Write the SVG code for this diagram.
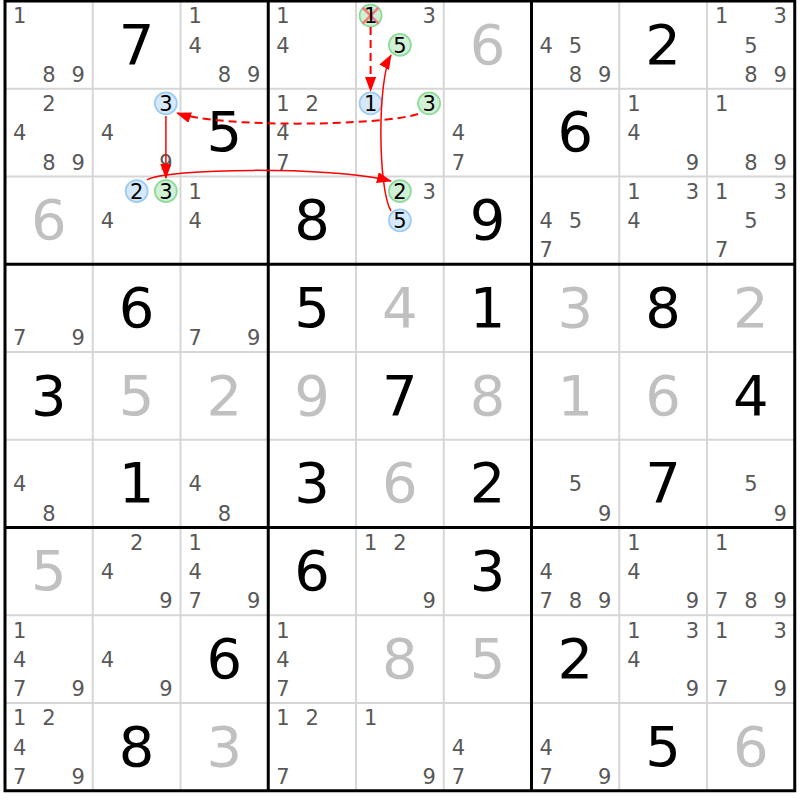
<svg xmlns="http://www.w3.org/2000/svg" width="800" height="800" viewBox="0 0 800 800">
<style>
text{font-family:"DejaVu Sans","Verdana",sans-serif;text-anchor:middle}
.c{font-size:21px;fill:#585858}
.d{font-size:21px;fill:#000}
.g{font-size:56px;fill:#000}
.s{font-size:56px;fill:#c0c0c0}
.cb{fill:#d6e9fb;stroke:#9ecbf3;stroke-width:1.8}
.cg{fill:#d2f0d6;stroke:#8ddb9b;stroke-width:1.8}
.thin{stroke:#d6d6d6;stroke-width:2}
.thick{stroke:#000;stroke-width:3}
.x{stroke:#f07c7c;stroke-width:2.6}
.arr{fill:none;stroke:#ff0000;stroke-width:1.5}
.dash{stroke-width:2;stroke-dasharray:8,5}
</style>
<defs>
<marker id="ah" markerUnits="userSpaceOnUse" viewBox="0 0 15 11" markerWidth="15" markerHeight="11" refX="14" refY="5.5" orient="auto"><path d="M0,0 L15,5.5 L0,11 z" fill="#ff0000"/></marker>
</defs>
<rect width="800" height="800" fill="#fff"/>
<g id="grid">
<g class="thin">
<line x1="92.75" y1="1" x2="92.75" y2="790.75"/><line x1="180.5" y1="1" x2="180.5" y2="790.75"/>
<line x1="356" y1="1" x2="356" y2="790.75"/><line x1="443.75" y1="1" x2="443.75" y2="790.75"/>
<line x1="619.25" y1="1" x2="619.25" y2="790.75"/><line x1="707" y1="1" x2="707" y2="790.75"/>
<line x1="5" y1="88.75" x2="794.75" y2="88.75"/><line x1="5" y1="176.5" x2="794.75" y2="176.5"/>
<line x1="5" y1="352" x2="794.75" y2="352"/><line x1="5" y1="439.75" x2="794.75" y2="439.75"/>
<line x1="5" y1="615.25" x2="794.75" y2="615.25"/><line x1="5" y1="703" x2="794.75" y2="703"/>
</g>
<g class="thick">
<line x1="268.25" y1="1" x2="268.25" y2="790.75"/><line x1="531.5" y1="1" x2="531.5" y2="790.75"/>
<line x1="5" y1="264.25" x2="794.75" y2="264.25"/><line x1="5" y1="527.5" x2="794.75" y2="527.5"/>
<rect x="5" y="1" width="789.75" height="789.75" fill="none"/>
</g>
</g>
<!-- row 0 -->
<g id="r1c1" transform="translate(5,1)"><text class="c" x="14.6" y="22.3">1</text><text class="c" x="43.9" y="80.8">8</text><text class="c" x="73.1" y="80.8">9</text></g>
<g id="r1c2" transform="translate(92.75,1)"><text class="g" x="43.9" y="62.5">7</text></g>
<g id="r1c3" transform="translate(180.5,1)"><text class="c" x="14.6" y="22.3">1</text><text class="c" x="14.6" y="51.6">4</text><text class="c" x="43.9" y="80.8">8</text><text class="c" x="73.1" y="80.8">9</text></g>
<g id="r1c4" transform="translate(268.25,1)"><text class="c" x="14.6" y="22.3">1</text><text class="c" x="14.6" y="51.6">4</text></g>
<g id="r1c5" transform="translate(356,1)"><circle class="cg" cx="14.6" cy="14.6" r="11"/><line class="x" x1="6.6" y1="6.6" x2="22.6" y2="22.6"/><line class="x" x1="22.6" y1="6.6" x2="6.6" y2="22.6"/><text class="d" x="14.6" y="22.3">1</text><text class="c" x="73.1" y="22.3">3</text><circle class="cg" cx="43.9" cy="43.9" r="11"/><text class="d" x="43.9" y="51.6">5</text></g>
<g id="r1c6" transform="translate(443.75,1)"><text class="s" x="43.9" y="62.5">6</text></g>
<g id="r1c7" transform="translate(531.5,1)"><text class="c" x="14.6" y="51.6">4</text><text class="c" x="43.9" y="51.6">5</text><text class="c" x="43.9" y="80.8">8</text><text class="c" x="73.1" y="80.8">9</text></g>
<g id="r1c8" transform="translate(619.25,1)"><text class="g" x="43.9" y="62.5">2</text></g>
<g id="r1c9" transform="translate(707,1)"><text class="c" x="14.6" y="22.3">1</text><text class="c" x="73.1" y="22.3">3</text><text class="c" x="43.9" y="51.6">5</text><text class="c" x="43.9" y="80.8">8</text><text class="c" x="73.1" y="80.8">9</text></g>
<!-- row 1 -->
<g id="r2c1" transform="translate(5,88.75)"><text class="c" x="43.9" y="22.3">2</text><text class="c" x="14.6" y="51.6">4</text><text class="c" x="43.9" y="80.8">8</text><text class="c" x="73.1" y="80.8">9</text></g>
<g id="r2c2" transform="translate(92.75,88.75)"><circle class="cb" cx="73.1" cy="14.6" r="11"/><text class="d" x="73.1" y="22.3">3</text><text class="c" x="14.6" y="51.6">4</text><text class="c" x="73.1" y="80.8">9</text></g>
<g id="r2c3" transform="translate(180.5,88.75)"><text class="g" x="43.9" y="62.5">5</text></g>
<g id="r2c4" transform="translate(268.25,88.75)"><text class="c" x="14.6" y="22.3">1</text><text class="c" x="43.9" y="22.3">2</text><text class="c" x="14.6" y="51.6">4</text><text class="c" x="14.6" y="80.8">7</text></g>
<g id="r2c5" transform="translate(356,88.75)"><circle class="cb" cx="14.6" cy="14.6" r="11"/><text class="d" x="14.6" y="22.3">1</text><circle class="cg" cx="73.1" cy="14.6" r="11"/><text class="d" x="73.1" y="22.3">3</text></g>
<g id="r2c6" transform="translate(443.75,88.75)"><text class="c" x="14.6" y="51.6">4</text><text class="c" x="14.6" y="80.8">7</text></g>
<g id="r2c7" transform="translate(531.5,88.75)"><text class="g" x="43.9" y="62.5">6</text></g>
<g id="r2c8" transform="translate(619.25,88.75)"><text class="c" x="14.6" y="22.3">1</text><text class="c" x="14.6" y="51.6">4</text><text class="c" x="73.1" y="80.8">9</text></g>
<g id="r2c9" transform="translate(707,88.75)"><text class="c" x="14.6" y="22.3">1</text><text class="c" x="43.9" y="80.8">8</text><text class="c" x="73.1" y="80.8">9</text></g>
<!-- row 2 -->
<g id="r3c1" transform="translate(5,176.5)"><text class="s" x="43.9" y="62.5">6</text></g>
<g id="r3c2" transform="translate(92.75,176.5)"><circle class="cb" cx="43.9" cy="14.6" r="11"/><text class="d" x="43.9" y="22.3">2</text><circle class="cg" cx="73.1" cy="14.6" r="11"/><text class="d" x="73.1" y="22.3">3</text><text class="c" x="14.6" y="51.6">4</text></g>
<g id="r3c3" transform="translate(180.5,176.5)"><text class="c" x="14.6" y="22.3">1</text><text class="c" x="14.6" y="51.6">4</text></g>
<g id="r3c4" transform="translate(268.25,176.5)"><text class="g" x="43.9" y="62.5">8</text></g>
<g id="r3c5" transform="translate(356,176.5)"><circle class="cg" cx="43.9" cy="14.6" r="11"/><text class="d" x="43.9" y="22.3">2</text><text class="c" x="73.1" y="22.3">3</text><circle class="cb" cx="43.9" cy="43.9" r="11"/><text class="d" x="43.9" y="51.6">5</text></g>
<g id="r3c6" transform="translate(443.75,176.5)"><text class="g" x="43.9" y="62.5">9</text></g>
<g id="r3c7" transform="translate(531.5,176.5)"><text class="c" x="14.6" y="51.6">4</text><text class="c" x="43.9" y="51.6">5</text><text class="c" x="14.6" y="80.8">7</text></g>
<g id="r3c8" transform="translate(619.25,176.5)"><text class="c" x="14.6" y="22.3">1</text><text class="c" x="73.1" y="22.3">3</text><text class="c" x="14.6" y="51.6">4</text></g>
<g id="r3c9" transform="translate(707,176.5)"><text class="c" x="14.6" y="22.3">1</text><text class="c" x="73.1" y="22.3">3</text><text class="c" x="43.9" y="51.6">5</text><text class="c" x="14.6" y="80.8">7</text></g>
<!-- row 3 -->
<g id="r4c1" transform="translate(5,264.25)"><text class="c" x="14.6" y="80.8">7</text><text class="c" x="73.1" y="80.8">9</text></g>
<g id="r4c2" transform="translate(92.75,264.25)"><text class="g" x="43.9" y="62.5">6</text></g>
<g id="r4c3" transform="translate(180.5,264.25)"><text class="c" x="14.6" y="80.8">7</text><text class="c" x="73.1" y="80.8">9</text></g>
<g id="r4c4" transform="translate(268.25,264.25)"><text class="g" x="43.9" y="62.5">5</text></g>
<g id="r4c5" transform="translate(356,264.25)"><text class="s" x="43.9" y="62.5">4</text></g>
<g id="r4c6" transform="translate(443.75,264.25)"><text class="g" x="43.9" y="62.5">1</text></g>
<g id="r4c7" transform="translate(531.5,264.25)"><text class="s" x="43.9" y="62.5">3</text></g>
<g id="r4c8" transform="translate(619.25,264.25)"><text class="g" x="43.9" y="62.5">8</text></g>
<g id="r4c9" transform="translate(707,264.25)"><text class="s" x="43.9" y="62.5">2</text></g>
<!-- row 4 -->
<g id="r5c1" transform="translate(5,352)"><text class="g" x="43.9" y="62.5">3</text></g>
<g id="r5c2" transform="translate(92.75,352)"><text class="s" x="43.9" y="62.5">5</text></g>
<g id="r5c3" transform="translate(180.5,352)"><text class="s" x="43.9" y="62.5">2</text></g>
<g id="r5c4" transform="translate(268.25,352)"><text class="s" x="43.9" y="62.5">9</text></g>
<g id="r5c5" transform="translate(356,352)"><text class="g" x="43.9" y="62.5">7</text></g>
<g id="r5c6" transform="translate(443.75,352)"><text class="s" x="43.9" y="62.5">8</text></g>
<g id="r5c7" transform="translate(531.5,352)"><text class="s" x="43.9" y="62.5">1</text></g>
<g id="r5c8" transform="translate(619.25,352)"><text class="s" x="43.9" y="62.5">6</text></g>
<g id="r5c9" transform="translate(707,352)"><text class="g" x="43.9" y="62.5">4</text></g>
<!-- row 5 -->
<g id="r6c1" transform="translate(5,439.75)"><text class="c" x="14.6" y="51.6">4</text><text class="c" x="43.9" y="80.8">8</text></g>
<g id="r6c2" transform="translate(92.75,439.75)"><text class="g" x="43.9" y="62.5">1</text></g>
<g id="r6c3" transform="translate(180.5,439.75)"><text class="c" x="14.6" y="51.6">4</text><text class="c" x="43.9" y="80.8">8</text></g>
<g id="r6c4" transform="translate(268.25,439.75)"><text class="g" x="43.9" y="62.5">3</text></g>
<g id="r6c5" transform="translate(356,439.75)"><text class="s" x="43.9" y="62.5">6</text></g>
<g id="r6c6" transform="translate(443.75,439.75)"><text class="g" x="43.9" y="62.5">2</text></g>
<g id="r6c7" transform="translate(531.5,439.75)"><text class="c" x="43.9" y="51.6">5</text><text class="c" x="73.1" y="80.8">9</text></g>
<g id="r6c8" transform="translate(619.25,439.75)"><text class="g" x="43.9" y="62.5">7</text></g>
<g id="r6c9" transform="translate(707,439.75)"><text class="c" x="43.9" y="51.6">5</text><text class="c" x="73.1" y="80.8">9</text></g>
<!-- row 6 -->
<g id="r7c1" transform="translate(5,527.5)"><text class="s" x="43.9" y="62.5">5</text></g>
<g id="r7c2" transform="translate(92.75,527.5)"><text class="c" x="43.9" y="22.3">2</text><text class="c" x="14.6" y="51.6">4</text><text class="c" x="73.1" y="80.8">9</text></g>
<g id="r7c3" transform="translate(180.5,527.5)"><text class="c" x="14.6" y="22.3">1</text><text class="c" x="14.6" y="51.6">4</text><text class="c" x="14.6" y="80.8">7</text><text class="c" x="73.1" y="80.8">9</text></g>
<g id="r7c4" transform="translate(268.25,527.5)"><text class="g" x="43.9" y="62.5">6</text></g>
<g id="r7c5" transform="translate(356,527.5)"><text class="c" x="14.6" y="22.3">1</text><text class="c" x="43.9" y="22.3">2</text><text class="c" x="73.1" y="80.8">9</text></g>
<g id="r7c6" transform="translate(443.75,527.5)"><text class="g" x="43.9" y="62.5">3</text></g>
<g id="r7c7" transform="translate(531.5,527.5)"><text class="c" x="14.6" y="51.6">4</text><text class="c" x="14.6" y="80.8">7</text><text class="c" x="43.9" y="80.8">8</text><text class="c" x="73.1" y="80.8">9</text></g>
<g id="r7c8" transform="translate(619.25,527.5)"><text class="c" x="14.6" y="22.3">1</text><text class="c" x="14.6" y="51.6">4</text><text class="c" x="73.1" y="80.8">9</text></g>
<g id="r7c9" transform="translate(707,527.5)"><text class="c" x="14.6" y="22.3">1</text><text class="c" x="14.6" y="80.8">7</text><text class="c" x="43.9" y="80.8">8</text><text class="c" x="73.1" y="80.8">9</text></g>
<!-- row 7 -->
<g id="r8c1" transform="translate(5,615.25)"><text class="c" x="14.6" y="22.3">1</text><text class="c" x="14.6" y="51.6">4</text><text class="c" x="14.6" y="80.8">7</text><text class="c" x="73.1" y="80.8">9</text></g>
<g id="r8c2" transform="translate(92.75,615.25)"><text class="c" x="14.6" y="51.6">4</text><text class="c" x="73.1" y="80.8">9</text></g>
<g id="r8c3" transform="translate(180.5,615.25)"><text class="g" x="43.9" y="62.5">6</text></g>
<g id="r8c4" transform="translate(268.25,615.25)"><text class="c" x="14.6" y="22.3">1</text><text class="c" x="14.6" y="51.6">4</text><text class="c" x="14.6" y="80.8">7</text></g>
<g id="r8c5" transform="translate(356,615.25)"><text class="s" x="43.9" y="62.5">8</text></g>
<g id="r8c6" transform="translate(443.75,615.25)"><text class="s" x="43.9" y="62.5">5</text></g>
<g id="r8c7" transform="translate(531.5,615.25)"><text class="g" x="43.9" y="62.5">2</text></g>
<g id="r8c8" transform="translate(619.25,615.25)"><text class="c" x="14.6" y="22.3">1</text><text class="c" x="73.1" y="22.3">3</text><text class="c" x="14.6" y="51.6">4</text><text class="c" x="73.1" y="80.8">9</text></g>
<g id="r8c9" transform="translate(707,615.25)"><text class="c" x="14.6" y="22.3">1</text><text class="c" x="73.1" y="22.3">3</text><text class="c" x="14.6" y="80.8">7</text><text class="c" x="73.1" y="80.8">9</text></g>
<!-- row 8 -->
<g id="r9c1" transform="translate(5,703)"><text class="c" x="14.6" y="22.3">1</text><text class="c" x="43.9" y="22.3">2</text><text class="c" x="14.6" y="51.6">4</text><text class="c" x="14.6" y="80.8">7</text><text class="c" x="73.1" y="80.8">9</text></g>
<g id="r9c2" transform="translate(92.75,703)"><text class="g" x="43.9" y="62.5">8</text></g>
<g id="r9c3" transform="translate(180.5,703)"><text class="s" x="43.9" y="62.5">3</text></g>
<g id="r9c4" transform="translate(268.25,703)"><text class="c" x="14.6" y="22.3">1</text><text class="c" x="43.9" y="22.3">2</text><text class="c" x="14.6" y="80.8">7</text></g>
<g id="r9c5" transform="translate(356,703)"><text class="c" x="14.6" y="22.3">1</text><text class="c" x="73.1" y="80.8">9</text></g>
<g id="r9c6" transform="translate(443.75,703)"><text class="c" x="14.6" y="51.6">4</text><text class="c" x="14.6" y="80.8">7</text></g>
<g id="r9c7" transform="translate(531.5,703)"><text class="c" x="14.6" y="51.6">4</text><text class="c" x="14.6" y="80.8">7</text><text class="c" x="73.1" y="80.8">9</text></g>
<g id="r9c8" transform="translate(619.25,703)"><text class="g" x="43.9" y="62.5">5</text></g>
<g id="r9c9" transform="translate(707,703)"><text class="s" x="43.9" y="62.5">6</text></g>
<g id="connectors">
<path class="arr dash" d="M370.6,27 L370.6,91" marker-end="url(#ah)"/>
<path class="arr" d="M391,211 C378,190 377,80 391,55" marker-end="url(#ah)"/>
<path class="arr dash" d="M418,114 C380,126 220,128 177,113" marker-end="url(#ah)"/>
<path class="arr" d="M165.9,116 L165.9,178" marker-end="url(#ah)"/>
<path class="arr" d="M147,180 C165,168 330,166 391,181" marker-end="url(#ah)"/>
</g>
</svg>
